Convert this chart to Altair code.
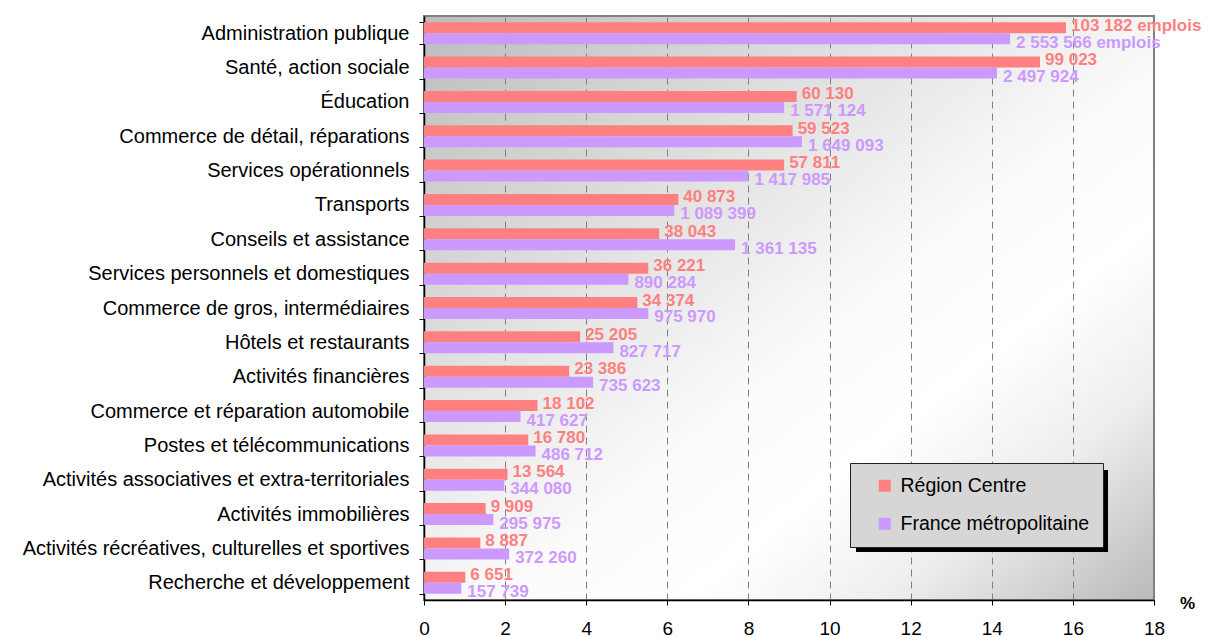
import altair as alt
import pandas as pd

categories = ["Administration publique", "Santé, action sociale", "Éducation",
              "Commerce de détail, réparations", "Services opérationnels", "Transports",
              "Conseils et assistance", "Services personnels et domestiques",
              "Commerce de gros, intermédiaires", "Hôtels et restaurants",
              "Activités financières", "Commerce et réparation automobile",
              "Postes et télécommunications", "Activités associatives et extra-territoriales",
              "Activités immobilières", "Activités récréatives, culturelles et sportives",
              "Recherche et développement"]
series = ["Région Centre", "France métropolitaine"]
centre_pct = [15.83, 15.19, 9.19, 9.09, 8.88, 6.27, 5.80, 5.53, 5.26, 3.85, 3.58, 2.80, 2.57, 2.06, 1.52, 1.39, 1.02]
france_pct = [14.45, 14.13, 8.88, 9.32, 8.00, 6.17, 7.67, 5.04, 5.53, 4.67, 4.17, 2.38, 2.75, 1.98, 1.71, 2.10, 0.92]
centre_n = [103182, 99023, 60130, 59523, 57811, 40873, 38043, 36221, 34374, 25205, 23386, 18102, 16780, 13564, 9909, 8887, 6651]
france_n = [2553566, 2497924, 1571124, 1649093, 1417985, 1089399, 1361135, 890284, 975970, 827717, 735623, 417627, 486712, 344080, 295975, 372260, 157739]
x_ticks = [0, 2, 4, 6, 8, 10, 12, 14, 16, 18]
colors = ["#FF8080", "#CC99FF"]


def fmt(n, first):
    s = f"{n:,}".replace(",", " ")
    return s + " emplois" if first else s


rows = []
for i, c in enumerate(categories):
    rows.append({"cat": c, "serie": series[0], "pct": centre_pct[i], "label": fmt(centre_n[i], i == 0)})
    rows.append({"cat": c, "serie": series[1], "pct": france_pct[i], "label": fmt(france_n[i], i == 0)})
df = pd.DataFrame(rows)

W, H = 730, 584
FONT = "Liberation Sans"

y_enc = alt.Y("cat:N", sort=categories, title=None,
              scale=alt.Scale(paddingInner=0.36, paddingOuter=0.18),
              axis=alt.Axis(tickBand="extent", labelFontSize=20, labelColor="#000",
                            labelPadding=10, labelLimit=500, tickSize=5, tickColor="#000",
                            domainColor="#000", domainWidth=1.5, grid=False))
x_enc = alt.X("pct:Q", title="%",
              scale=alt.Scale(domain=[0, 18], nice=False),
              axis=alt.Axis(values=x_ticks, labelFontSize=19, labelColor="#000", labelPadding=14,
                            tickSize=5, tickColor="#000", domainColor="#000", domainWidth=1.5,
                            grid=True, gridColor="#808080", gridDash=[7, 5], gridWidth=1,
                            titleFontSize=17, titleFontWeight="bold", titleColor="#000",
                            titleX=W + 33, titleY=3, titleAlign="center",
                            titleBaseline="middle", labelFlush=False))
yoff = alt.YOffset("serie:N", sort=series, scale=alt.Scale(paddingInner=0, paddingOuter=0))

bars = alt.Chart(df).mark_bar().encode(
    x=x_enc, y=y_enc, yOffset=yoff,
    color=alt.Color("serie:N", sort=series,
                    scale=alt.Scale(domain=series, range=colors),
                    legend=alt.Legend(title=None, orient="none", legendX=426, legendY=447,
                                      fillColor="#d6d6d6", strokeColor="#222",
                                      padding=13, symbolOffset=12, symbolType="square",
                                      symbolSize=144, symbolStrokeWidth=0,
                                      labelFontSize=19.5, labelColor="#000", labelOffset=6,
                                      rowPadding=17, labelLimit=400)))

txt_c = alt.Chart(df).transform_filter(alt.datum.serie == series[0]).mark_text(
    align="left", baseline="middle", dx=5, dy=-2, fontSize=17, fontWeight="bold",
    color=colors[0], font=FONT).encode(
    x="pct:Q", y=alt.Y("cat:N", sort=categories), yOffset=yoff, text="label:N")
txt_f = alt.Chart(df).transform_filter(alt.datum.serie == series[1]).mark_text(
    align="left", baseline="middle", dx=6, dy=4, fontSize=17, fontWeight="bold",
    color=colors[1], font=FONT).encode(
    x="pct:Q", y=alt.Y("cat:N", sort=categories), yOffset=yoff, text="label:N")

shadow = alt.Chart(alt.Data(values=[{}])).mark_rect(color="#000").encode(
    x=alt.value(432), x2=alt.value(684), y=alt.value(454), y2=alt.value(536))

bg_expr = ("{gradient:'linear', x1:0, y1:0, x2:1, y2:1, stops:["
           "{offset:0, color:'#bcbcbc'}, {offset:0.3, color:'#dedede'},"
           "{offset:0.55, color:'#fbfbfb'}, {offset:0.68, color:'#ffffff'},"
           "{offset:0.82, color:'#ededed'}, {offset:1, color:'#b9b9b9'}]}")

chart = alt.layer(bars, txt_c, txt_f, shadow).properties(
    width=W, height=H,
    autosize=alt.AutoSizeParams(type="none"),
    padding={"left": 416, "top": 8, "right": 48, "bottom": 40},
).configure(font=FONT).configure_view(
    stroke="#808080", strokeWidth=2, fill={"expr": bg_expr}
).configure_axis(labelFont=FONT, titleFont=FONT)

chart.save("out.html", embed_options={"renderer": "svg", "actions": False})
